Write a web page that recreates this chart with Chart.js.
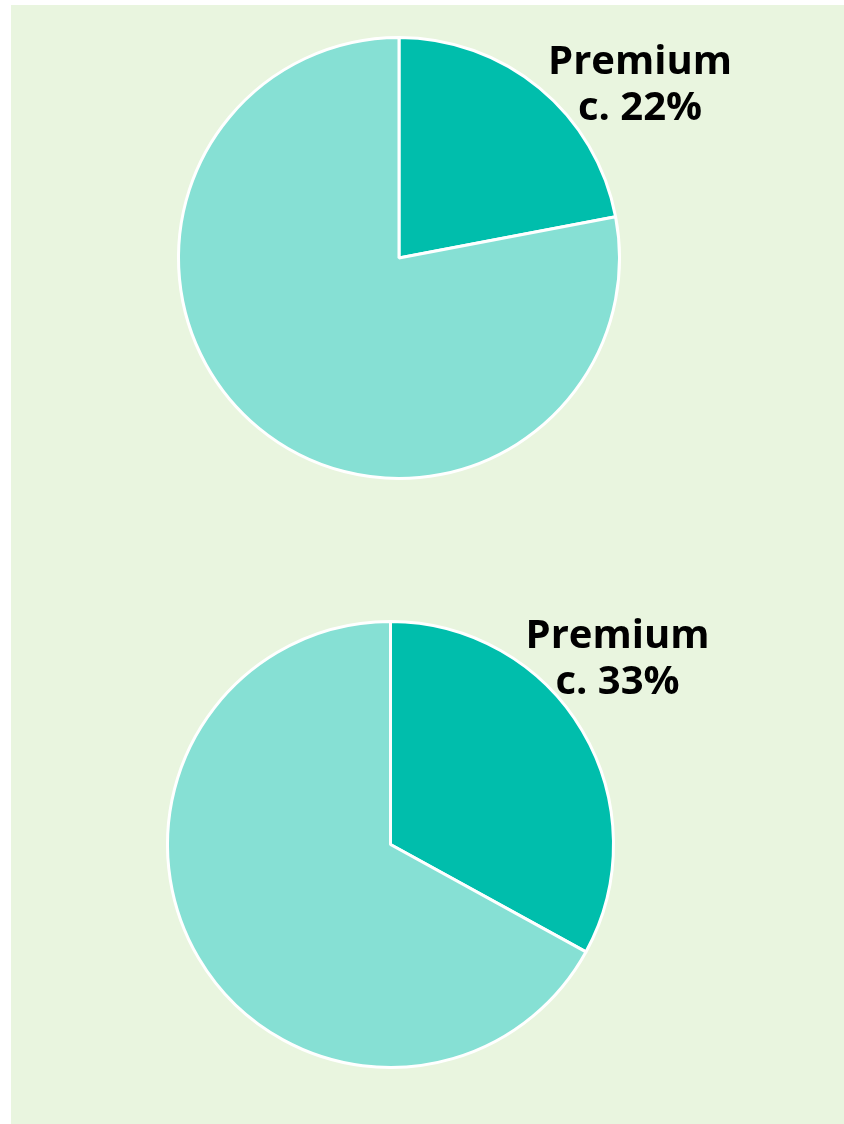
<!DOCTYPE html>
<html>
<head>
<meta charset="utf-8">
<script src="https://cdn.jsdelivr.net/npm/chart.js@4"></script>
<style>
  html, body { margin: 0; padding: 0; background: #ffffff; }
  body { width: 844px; height: 1124px; position: relative; overflow: hidden; }
  #panel { position: absolute; left: 11px; top: 5px; right: 0; bottom: 0; background: #e9f5df; }
  .box { position: absolute; left: 0; width: 844px; }
  #topBox { top: 0; height: 560px; }
  #bottomBox { top: 560px; height: 564px; }
</style>
</head>
<body>
<div id="panel"></div>
<div class="box" id="topBox"><canvas id="topChart"></canvas></div>
<div class="box" id="bottomBox"><canvas id="bottomChart"></canvas></div>
<script>
// ================= DATA =================

const segments = ["Premium", "Other"];
const topShares = [22, 78];
const bottomShares = [33, 67];
const topCaption = ["Premium", "c. 22%"];
const bottomCaption = ["Premium", "c. 33%"];

const segmentColors = ["#00beac", "#86e0d4"];

// ================= CAPTION PLUGIN =================

const captionPlugin = {
  id: "caption",
  afterDraw(chart, args, opts) {
    const arc = chart.getDatasetMeta(0).data[0];
    if (!arc) return;
    const ctx = chart.ctx;
    ctx.save();
    ctx.font = "bold 40px 'Open Sans', 'Noto Sans', sans-serif";
    ctx.fillStyle = "#000000";
    ctx.textAlign = "center";
    ctx.textBaseline = "middle";
    opts.lines.forEach((line, i) => {
      ctx.fillText(line, arc.x + opts.dx, arc.y + opts.dy + i * opts.lineHeight);
    });
    ctx.restore();
  }
};

// ================= CHARTS =================

function makePie(id, values, caption, padding, offset) {
  return new Chart(document.getElementById(id), {
    type: "pie",
    data: {
      labels: segments,
      datasets: [{
        data: values,
        backgroundColor: segmentColors,
        borderColor: "#ffffff",
        borderWidth: 3
      }]
    },
    options: {
      responsive: true,
      maintainAspectRatio: false,
      animation: false,
      layout: { padding: padding },
      plugins: {
        legend: { display: false },
        tooltip: { enabled: false },
        caption: { lines: caption, dx: offset.dx, dy: offset.dy, lineHeight: 46 }
      }
    },
    plugins: [captionPlugin]
  });
}

makePie("topChart", topShares, topCaption,
  { left: 177, right: 223, top: 36, bottom: 80 },
  { dx: 241, dy: -195 });

makePie("bottomChart", bottomShares, bottomCaption,
  { left: 166, right: 229, top: 60, bottom: 55 },
  { dx: 227, dy: -208 });
</script>
</body>
</html>
